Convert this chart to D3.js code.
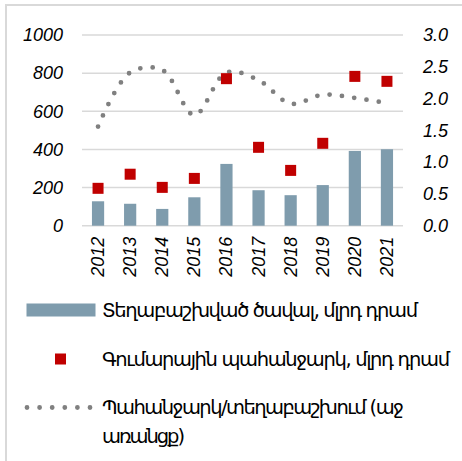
<!DOCTYPE html>
<html>
<head>
<meta charset="utf-8">
<script src="https://cdn.jsdelivr.net/npm/d3@7"></script>
<style>
  body { margin: 0; background: #fff; }
  svg { display: block; }
</style>
</head>
<body>
<div id="chart"></div>
<script>
const years = ["2012", "2013", "2014", "2015", "2016", "2017", "2018", "2019", "2020", "2021"];
const placed = [128, 115, 88, 149, 324, 186, 160, 213, 392, 401];
const demand = [196, 270, 201, 248, 771, 411, 290, 432, 783, 757];
const ratio = [1.56, 2.41, 2.45, 1.74, 2.41, 2.29, 1.92, 2.06, 2.01, 1.93];
const leftTicks = [0, 200, 400, 600, 800, 1000];
const rightTicks = [0, 0.5, 1.0, 1.5, 2.0, 2.5, 3.0];
const legendLabels = [
  "Տեղաբաշխված ծավալ, մլրդ դրամ",
  "Գումարային պահանջարկ, մլրդ դրամ",
  ["Պահանջարկ/տեղաբաշխում (աջ", "առանցք)"]
];

const W = 462, H = 461;
const plot = {left: 82, right: 403, top: 35, bottom: 225.7};

const svg = d3.select("#chart").append("svg")
  .attr("width", W)
  .attr("height", H);

// chart frame (only top/left visible)
svg.append("path")
  .attr("d", `M6,${H + 2}V5H${W + 2}`)
  .attr("fill", "none")
  .attr("stroke", "#d9d9d9")
  .attr("stroke-width", 2);

const x = d3.scaleBand()
  .domain(years)
  .range([plot.left, plot.right])
  .paddingInner(0.62)
  .paddingOuter(0.31);

const y = d3.scaleLinear().domain([0, 1000]).range([plot.bottom, plot.top]);
const y2 = d3.scaleLinear().domain([0, 3]).range([plot.bottom, plot.top]);

// gridlines
svg.append("g")
  .selectAll("line")
  .data(leftTicks)
  .join("line")
  .attr("x1", plot.left)
  .attr("x2", plot.right)
  .attr("y1", d => y(d))
  .attr("y2", d => y(d))
  .attr("stroke", "#d9d9d9")
  .attr("stroke-width", 1.5);

const numFont = "'Liberation Sans', Arial, sans-serif";

// left axis
svg.append("g")
  .attr("transform", `translate(${plot.left},0)`)
  .call(d3.axisLeft(y).tickValues(leftTicks).tickSize(0).tickPadding(19).tickFormat(d3.format("d")))
  .call(g => g.select(".domain").remove())
  .selectAll("text")
  .attr("font-family", numFont)
  .attr("font-size", 18)
  .attr("font-style", "italic")
  .attr("fill", "#000");

// right axis
svg.append("g")
  .attr("transform", `translate(${plot.right},0)`)
  .call(d3.axisRight(y2).tickValues(rightTicks).tickSize(0).tickPadding(20).tickFormat(d3.format(".1f")))
  .call(g => g.select(".domain").remove())
  .selectAll("text")
  .attr("font-family", numFont)
  .attr("font-size", 18)
  .attr("font-style", "italic")
  .attr("fill", "#000");

// x axis labels, vertical
svg.append("g")
  .attr("transform", `translate(0,${plot.bottom})`)
  .call(d3.axisBottom(x).tickSize(0).tickPadding(0))
  .call(g => g.select(".domain").remove())
  .selectAll("text")
  .attr("font-family", numFont)
  .attr("font-size", 18)
  .attr("font-style", "italic")
  .attr("fill", "#000")
  .attr("dy", null)
  .attr("y", 0)
  .attr("text-anchor", "end")
  .attr("dominant-baseline", "central")
  .attr("transform", "translate(0,11) rotate(-90)");

// bars
svg.append("g")
  .selectAll("rect")
  .data(placed)
  .join("rect")
  .attr("x", (d, i) => x(years[i]))
  .attr("y", d => y(d))
  .attr("width", x.bandwidth())
  .attr("height", d => y(0) - y(d))
  .attr("fill", "#7f9cad");

// ratio line, dotted smooth
const line = d3.line()
  .x((d, i) => x(years[i]) + x.bandwidth() / 2)
  .y(d => y2(d))
  .curve(d3.curveCatmullRom.alpha(0.5));

svg.append("path")
  .datum(ratio)
  .attr("d", line)
  .attr("fill", "none")
  .attr("stroke", "#808080")
  .attr("stroke-width", 4.8)
  .attr("stroke-linecap", "round")
  .attr("stroke-dasharray", "0 12.4");

// demand squares
const sq = 11;
svg.append("g")
  .selectAll("rect")
  .data(demand)
  .join("rect")
  .attr("x", (d, i) => x(years[i]) + x.bandwidth() / 2 - sq / 2)
  .attr("y", d => y(d) - sq / 2)
  .attr("width", sq)
  .attr("height", sq)
  .attr("fill", "#c00000");

// legend
const legFont = "'DejaVu Sans', 'Noto Sans', sans-serif";
const leg = svg.append("g");
const textX = 102;

leg.append("rect")
  .attr("x", 26.5).attr("y", 303.5)
  .attr("width", 69).attr("height", 13)
  .attr("fill", "#7f9cad");

leg.append("rect")
  .attr("x", 55).attr("y", 353.5)
  .attr("width", 11).attr("height", 11)
  .attr("fill", "#c00000");

leg.append("line")
  .attr("x1", 27).attr("x2", 91)
  .attr("y1", 407.5).attr("y2", 407.5)
  .attr("stroke", "#808080")
  .attr("stroke-width", 4.8)
  .attr("stroke-linecap", "round")
  .attr("stroke-dasharray", "0 12.6");

const legText = [
  {t: legendLabels[0], y: 310, w: 316},
  {t: legendLabels[1], y: 359, w: 348},
  {t: legendLabels[2][0], y: 407.5, w: 302},
  {t: legendLabels[2][1], y: 436.5, w: 83}
];

leg.selectAll("text")
  .data(legText)
  .join("text")
  .attr("x", textX)
  .attr("y", d => d.y)
  .attr("dominant-baseline", "central")
  .attr("font-family", legFont)
  .attr("font-size", 19.5)
  .attr("fill", "#000")
  .attr("textLength", d => d.w)
  .attr("lengthAdjust", "spacing")
  .text(d => d.t);
</script>
</body>
</html>
